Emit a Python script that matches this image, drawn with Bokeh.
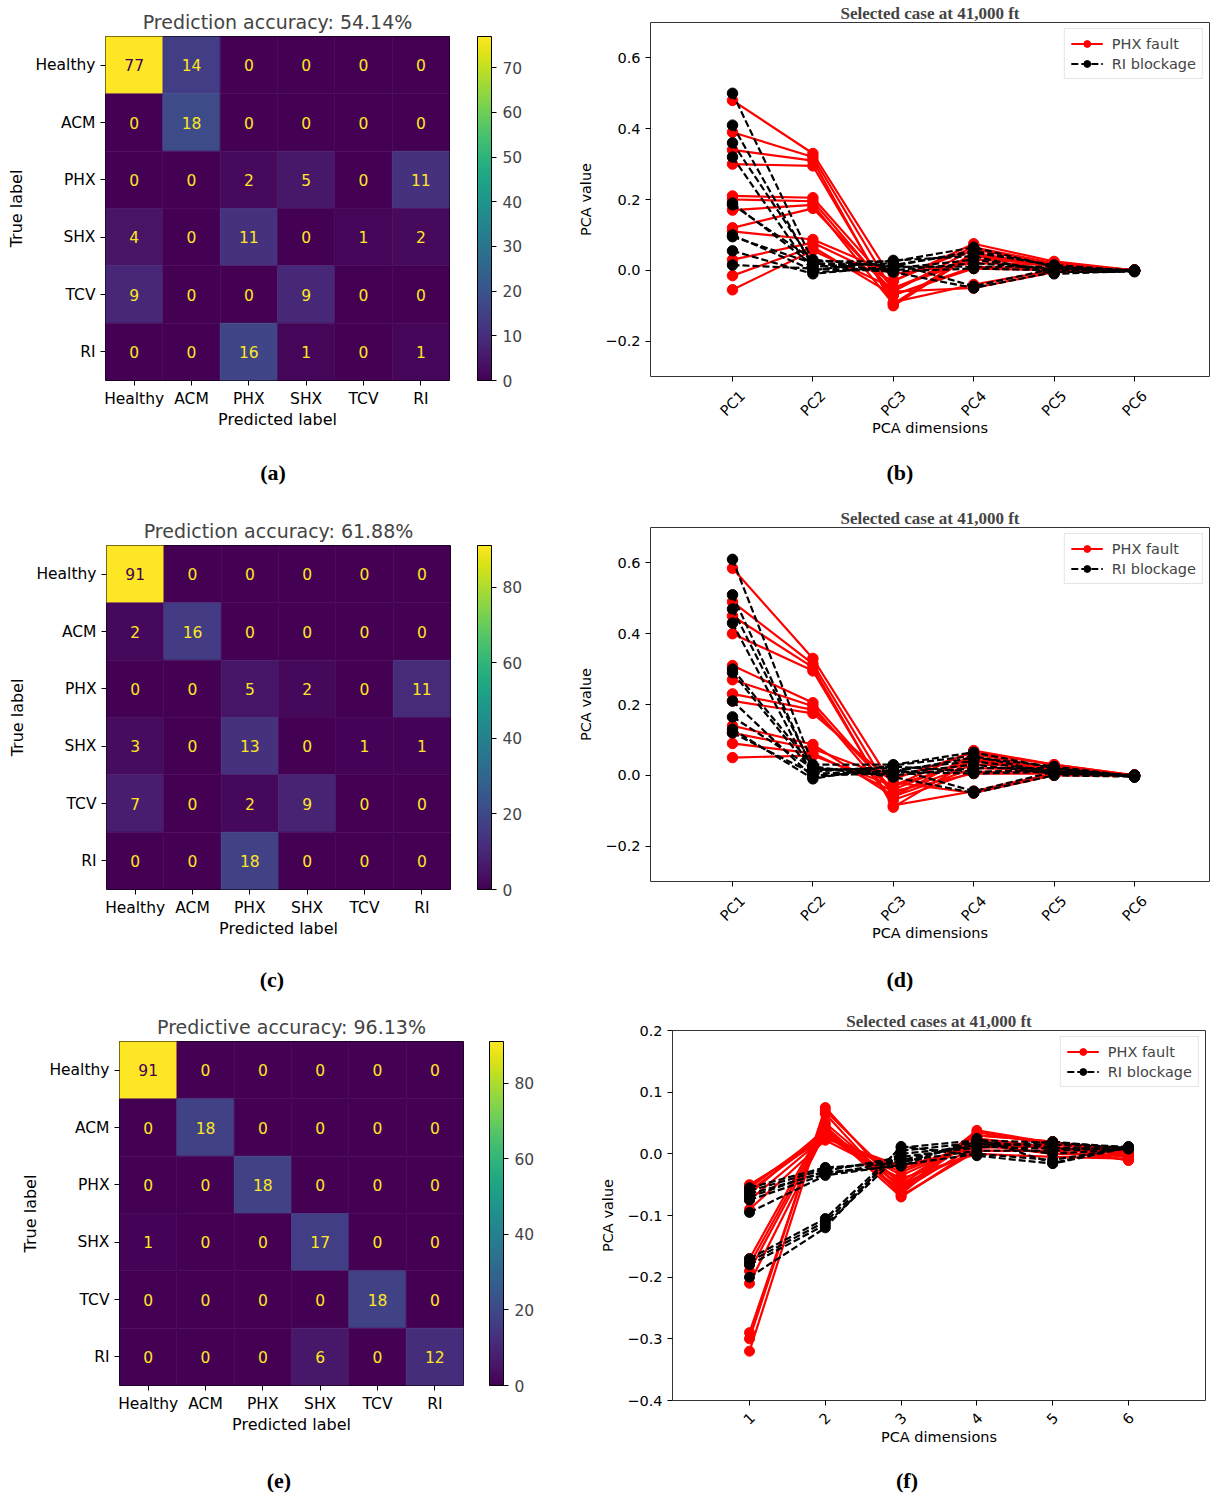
import math
from bokeh.plotting import figure
from bokeh.models import (ColumnDataSource, LinearColorMapper, ColorBar, FixedTicker,
                          FactorRange, Range1d, Div, CustomJSTickFormatter, LinearAxis, Spacer,
                          CustomLabelingPolicy)
from bokeh.layouts import column, row
from bokeh.palettes import Viridis256
from bokeh.embed import file_html
from bokeh.resources import INLINE
from bokeh.core.properties import value

# ---------------- data ----------------
classes = ["Healthy", "ACM", "PHX", "SHX", "TCV", "RI"]

cm_a = [[77, 14, 0, 0, 0, 0],
        [0, 18, 0, 0, 0, 0],
        [0, 0, 2, 5, 0, 11],
        [4, 0, 11, 0, 1, 2],
        [9, 0, 0, 9, 0, 0],
        [0, 0, 16, 1, 0, 1]]
cm_c = [[91, 0, 0, 0, 0, 0],
        [2, 16, 0, 0, 0, 0],
        [0, 0, 5, 2, 0, 11],
        [3, 0, 13, 0, 1, 1],
        [7, 0, 2, 9, 0, 0],
        [0, 0, 18, 0, 0, 0]]
cm_e = [[91, 0, 0, 0, 0, 0],
        [0, 18, 0, 0, 0, 0],
        [0, 0, 18, 0, 0, 0],
        [1, 0, 0, 17, 0, 0],
        [0, 0, 0, 0, 18, 0],
        [0, 0, 0, 6, 0, 12]]
title_a = "Prediction accuracy: 54.14%"
title_c = "Prediction accuracy: 61.88%"
title_e = "Predictive accuracy: 96.13%"
cbar_ticks_a = [0, 10, 20, 30, 40, 50, 60, 70]
cbar_ticks_ce = [0, 20, 40, 60, 80]

dims = [1, 2, 3, 4, 5, 6]
pc_labels = ["PC1", "PC2", "PC3", "PC4", "PC5", "PC6"]
num_labels = ["1", "2", "3", "4", "5", "6"]

# panel (b): each inner list = one PCA dimension, one value per case
b_phx = [[0.48, 0.39, 0.34, 0.30, 0.21, 0.20, 0.17, 0.12, 0.11, 0.03, -0.015, -0.055],
         [0.33, 0.32, 0.31, 0.295, 0.205, 0.195, 0.185, 0.175, 0.087, 0.078, 0.066, 0.056],
         [-0.03, -0.06, -0.10, -0.09, -0.05, -0.07, -0.095, -0.06, -0.01, -0.03, -0.07, -0.05],
         [0.075, 0.06, 0.045, -0.04, 0.03, 0.01, 0.05, -0.05, 0.02, 0.065, 0.005, 0.04],
         [0.025, 0.015, 0.01, 0.0, 0.02, 0.005, 0.01, -0.005, 0.015, 0.02, 0.0, 0.01],
         [0.0, -0.002, 0.0, 0.001, -0.001, 0.0, 0.0, -0.002, 0.001, 0.0, -0.001, 0.0]]
b_ri = [[0.50, 0.41, 0.36, 0.32, 0.19, 0.185, 0.10, 0.095, 0.055, 0.015],
        [0.025, 0.01, 0.02, -0.005, 0.015, 0.03, 0.0, 0.02, -0.01, 0.005],
        [0.025, 0.02, 0.015, 0.005, -0.005, 0.01, 0.028, 0.0, 0.012, -0.003],
        [0.065, -0.045, 0.05, 0.03, -0.05, 0.01, 0.04, 0.02, 0.055, 0.005],
        [0.01, 0.005, 0.015, 0.0, -0.005, 0.01, -0.01, 0.005, 0.012, 0.0],
        [-0.003, 0.0, -0.002, 0.0, -0.004, 0.0, -0.002, 0.0, -0.003, 0.0]]

# panel (d)
d_phx = [[0.585, 0.49, 0.45, 0.40, 0.31, 0.27, 0.23, 0.21, 0.14, 0.12, 0.09, 0.05],
         [0.33, 0.315, 0.305, 0.295, 0.205, 0.195, 0.185, 0.175, 0.087, 0.075, 0.062, 0.056],
         [-0.03, -0.06, -0.09, -0.085, -0.05, -0.07, -0.04, -0.02, -0.06, -0.01, -0.045, -0.03],
         [0.07, 0.06, 0.045, -0.045, 0.03, 0.01, 0.05, -0.05, 0.02, 0.065, 0.005, 0.04],
         [0.03, 0.02, 0.015, 0.005, 0.025, 0.01, 0.02, 0.0, 0.015, 0.03, 0.005, 0.01],
         [0.0, -0.002, 0.0, 0.001, -0.001, 0.0, 0.0, -0.002, 0.001, 0.0, -0.001, 0.0]]
d_ri = [[0.61, 0.51, 0.47, 0.43, 0.30, 0.29, 0.21, 0.165, 0.13, 0.12],
        [0.03, 0.015, 0.02, 0.0, 0.025, 0.01, -0.005, 0.02, -0.01, 0.005],
        [0.03, 0.02, 0.01, 0.005, -0.005, 0.025, 0.015, 0.0, 0.028, 0.01],
        [0.065, -0.045, 0.05, 0.03, -0.05, 0.01, 0.04, 0.02, 0.055, 0.005],
        [0.02, 0.01, 0.025, 0.005, 0.0, 0.015, 0.01, 0.02, 0.005, 0.01],
        [-0.005, 0.0, -0.003, 0.0, -0.004, 0.0, -0.002, -0.005, 0.0, -0.003]]

# panel (f)
f_phx = [[-0.05, -0.052, -0.055, -0.06, -0.065, -0.075, -0.09, -0.17, -0.18, -0.19, -0.21, -0.29, -0.30, -0.32],
         [0.025, 0.03, 0.035, 0.03, 0.04, 0.028, 0.022, 0.05, 0.045, 0.04, 0.035, 0.07, 0.075, 0.065],
         [-0.02, -0.03, -0.045, -0.05, -0.06, -0.025, -0.04, -0.055, -0.065, -0.07, -0.035, -0.05, -0.06, -0.068],
         [0.01, 0.02, 0.03, 0.005, 0.038, 0.015, 0.0, 0.025, 0.035, 0.01, 0.02, 0.03, 0.015, 0.005],
         [0.015, 0.01, 0.02, 0.005, 0.018, 0.0, -0.005, 0.01, 0.015, 0.012, 0.008, 0.02, 0.01, 0.005],
         [0.005, 0.0, -0.005, -0.01, 0.008, -0.003, -0.008, 0.002, 0.006, -0.011, 0.004, 0.0, -0.006, 0.007]]
f_ri = [[-0.055, -0.06, -0.065, -0.07, -0.075, -0.095, -0.17, -0.175, -0.18, -0.20],
        [-0.022, -0.025, -0.03, -0.028, -0.033, -0.035, -0.105, -0.11, -0.115, -0.12],
        [-0.015, -0.01, -0.02, -0.005, -0.012, -0.018, 0.01, 0.005, 0.0, 0.012],
        [0.02, 0.015, 0.025, 0.01, 0.005, 0.0, 0.022, 0.018, 0.012, -0.003],
        [0.01, 0.015, -0.015, 0.02, 0.005, -0.01, 0.018, 0.0, 0.008, -0.016],
        [0.008, 0.01, 0.012, 0.008, 0.009, 0.01, 0.011, 0.008, 0.009, 0.01]]

pca_title_bd = "Selected case at 41,000 ft"
pca_title_f = "Selected cases at 41,000 ft"
yticks_bd = [-0.2, 0.0, 0.2, 0.4, 0.6]
yticks_f = [-0.4, -0.3, -0.2, -0.1, 0.0, 0.1, 0.2]

FONT = "DejaVu Sans"
MINUS_FMT = "return (tick < -1e-9 ? '\\u2212' : '') + Math.abs(tick).toFixed(1);"


def conf_fig(cm, title, ticks, bl, bt, bb, br, cb_off):
    mx = max(max(r) for r in cm)
    thresh = mx / 2.0
    xs, ys, vals, labs, tcs = [], [], [], [], []
    for i, t in enumerate(classes):
        for j, pc in enumerate(classes):
            v = cm[i][j]
            xs.append(pc); ys.append(t); vals.append(v); labs.append(str(v))
            tcs.append("#440154" if v >= thresh else "#fde725")
    src = ColumnDataSource(dict(x=xs, y=ys, v=vals, lab=labs, tc=tcs))
    mapper = LinearColorMapper(palette=Viridis256, low=0, high=mx)
    p = figure(x_range=FactorRange(*classes), y_range=FactorRange(*classes[::-1]),
               frame_width=344, frame_height=344,
               min_border_left=bl, min_border_top=bt, min_border_bottom=bb, min_border_right=br,
               toolbar_location=None, output_backend="svg", title=title)
    p.rect(x="x", y="y", width=1, height=1, source=src,
           fill_color={"field": "v", "transform": mapper},
           line_color={"field": "v", "transform": mapper}, line_width=0.6)
    p.text(x="x", y="y", text="lab", source=src, text_color="tc",
           text_align="center", text_baseline="middle",
           text_font=value(FONT), text_font_size="15.5px")
    p.title.text_font = FONT
    p.title.text_font_size = "19px"
    p.title.text_font_style = "normal"
    p.title.align = "center"
    p.title.standoff = 7
    p.xgrid.visible = False
    p.ygrid.visible = False
    p.outline_line_color = "black"
    p.outline_line_width = 1
    for ax in (p.xaxis, p.yaxis):
        ax.axis_line_color = None
        ax.major_tick_out = 5
        ax.major_tick_in = 0
        ax.major_tick_line_color = "black"
        ax.major_label_text_font = FONT
        ax.major_label_text_font_size = "15.5px"
        ax.major_label_text_color = "black"
        ax.axis_label_text_font = FONT
        ax.axis_label_text_font_size = "16px"
        ax.axis_label_text_font_style = "normal"
        ax.axis_label_text_color = "black"
    p.xaxis.axis_label = "Predicted label"
    p.yaxis.axis_label = "True label"
    p.xaxis.major_label_standoff = 4
    p.xaxis.axis_label_standoff = -1
    p.yaxis.axis_label_standoff = 6
    cb = ColorBar(color_mapper=mapper, width=14, padding=0, margin=0, location=(cb_off, 0),
                  ticker=FixedTicker(ticks=ticks), major_tick_out=5, major_tick_in=0,
                  major_tick_line_color="black", bar_line_color="black",
                  major_label_text_font=FONT, major_label_text_font_size="15.5px",
                  label_standoff=6, border_line_color=None, background_fill_color=None)
    p.add_layout(cb, "right")
    return p


def lines_of(data):
    n = len(data[0])
    return [[data[d][k] for d in range(len(dims))] for k in range(n)]


def pca_fig(title, phx, ri, xr, yr, yticks, xlabels, lab_shift, lab_standoff, xlab_standoff,
            msize, fw, fh, bl, bt, bb, br):
    p = figure(x_range=Range1d(*xr), y_range=Range1d(*yr), frame_width=fw, frame_height=fh,
               min_border_left=bl, min_border_top=bt, min_border_bottom=bb, min_border_right=br,
               toolbar_location=None, output_backend="svg", title=title)
    for data, col, dash, lab in ((phx, "red", "solid", "PHX fault"),
                                 (ri, "black", "7 3", "RI blockage")):
        ls = lines_of(data)
        p.multi_line(xs=[dims] * len(ls), ys=ls, line_color=col, line_width=2.2,
                     line_dash=dash, legend_label=lab)
        px = [dims[d] for d in range(len(dims)) for _ in data[d]]
        py = [v for d in range(len(dims)) for v in data[d]]
        p.scatter(x=px, y=py, size=msize, fill_color=col, line_color=col, legend_label=lab)
    p.title.text_font = "Liberation Serif"
    p.title.text_font_size = "17px"
    p.title.text_font_style = "bold"
    p.title.align = "center"
    p.title.standoff = 0
    p.xgrid.visible = False
    p.ygrid.visible = False
    p.outline_line_color = "#333333"
    p.outline_line_width = 1
    # tick marks axis (its own labels are not drawn)
    ax1 = p.xaxis[0]
    ax1.ticker = FixedTicker(ticks=dims)
    ax1.major_label_text_font_size = "0px"
    ax1.major_label_standoff = 0
    ax1.major_label_policy = CustomLabelingPolicy(code="return []")
    p.yaxis.ticker = FixedTicker(ticks=yticks)
    p.yaxis.formatter = CustomJSTickFormatter(code=MINUS_FMT)
    for ax in (ax1, p.yaxis[0]):
        ax.axis_line_color = None
        ax.major_tick_out = 5
        ax.major_tick_in = 0
        ax.minor_tick_line_color = None
        ax.major_tick_line_color = "black"
        ax.major_label_text_font = FONT
        ax.major_label_text_color = "black"
        ax.axis_label_text_font = FONT
        ax.axis_label_text_font_size = "14.5px"
        ax.axis_label_text_font_style = "normal"
        ax.axis_label_text_color = "black"
    p.yaxis.major_label_text_font_size = "14.5px"
    p.yaxis.axis_label = "PCA value"
    p.yaxis.axis_label_standoff = 8
    # rotated labels axis, shifted so the rotated text is centred on each tick
    ax2 = LinearAxis(ticker=FixedTicker(ticks=[d + lab_shift for d in dims]),
                     formatter=CustomJSTickFormatter(args=dict(labels=xlabels),
                                                     code="return labels[Math.round(tick) - 1];"),
                     major_label_orientation=math.pi / 4, major_tick_out=0, major_tick_in=0,
                     minor_tick_out=0, minor_tick_in=0,
                     axis_line_color=None, major_tick_line_color=None, minor_tick_line_color=None,
                     major_label_standoff=lab_standoff,
                     major_label_text_font=FONT, major_label_text_font_size="14.5px",
                     major_label_text_color="black",
                     axis_label="PCA dimensions", axis_label_standoff=xlab_standoff,
                     axis_label_text_font=FONT, axis_label_text_font_size="14.5px",
                     axis_label_text_font_style="normal", axis_label_text_color="black")
    p.add_layout(ax2, "below")
    lg = p.legend[0]
    lg.location = "top_right"
    lg.label_text_font = FONT
    lg.label_text_font_size = "14.5px"
    lg.border_line_color = "#cccccc"
    lg.background_fill_alpha = 0.8
    lg.glyph_width = 32
    lg.glyph_height = 17
    lg.label_height = 17
    lg.label_standoff = 9
    lg.padding = 6
    lg.spacing = 3
    lg.margin = 6
    return p


def label_div(text, width, height, cx, cy):
    html = ('<div style="position:relative; left:%dpx; top:%dpx; width:60px; height:24px; '
            'line-height:24px; text-align:center; font-family:\'Liberation Serif\',serif; '
            'font-weight:bold; font-size:22px; color:#000;">%s</div>') % (cx - 30, cy - 12, text)
    return Div(text=html, width=width, height=height, margin=0)


def shifted(fig, dy):
    return column(Spacer(width=1, height=dy, margin=0), fig, margin=0)


fa = conf_fig(cm_a, title_a, cbar_ticks_a, 105, 36, 60, 123, 28)
fc = conf_fig(cm_c, title_c, cbar_ticks_ce, 106, 45, 56, 122, 27)
fe = conf_fig(cm_e, title_e, cbar_ticks_ce, 119, 36, 65, 109, 26)

fb = pca_fig(pca_title_bd, b_phx, b_ri, (-0.02, 6.933), (-0.3, 0.7), yticks_bd, pc_labels,
             0.124, 12, -8, 10.5, 559, 354, 78, 21, 40, 1)
fd = pca_fig(pca_title_bd, d_phx, d_ri, (-0.02, 6.933), (-0.3, 0.7), yticks_bd, pc_labels,
             0.124, 12, -8, 10.5, 559, 354, 78, 26, 40, 1)
ff = pca_fig(pca_title_f, f_phx, f_ri, (-0.016, 7.016), (-0.4, 0.2), yticks_f, num_labels,
             0.04, 10, -3, 10, 533, 370, 100, 24, 40, 5)

layout = column(
    row(shifted(fa, 0), shifted(fb, 1), margin=0),
    row(label_div("(a)", 572, 60, 273, 33), label_div("(b)", 638, 60, 328, 33), margin=0),
    row(shifted(fc, 0), shifted(fd, 1), margin=0),
    row(label_div("(c)", 572, 60, 272, 35), label_div("(d)", 638, 60, 328, 35), margin=0),
    row(shifted(fe, 0), shifted(ff, 1), margin=0),
    row(label_div("(e)", 572, 44, 279, 31), label_div("(f)", 638, 44, 335, 31), margin=0),
    margin=0,
)

open("out.html", "w").write(file_html(layout, INLINE))
